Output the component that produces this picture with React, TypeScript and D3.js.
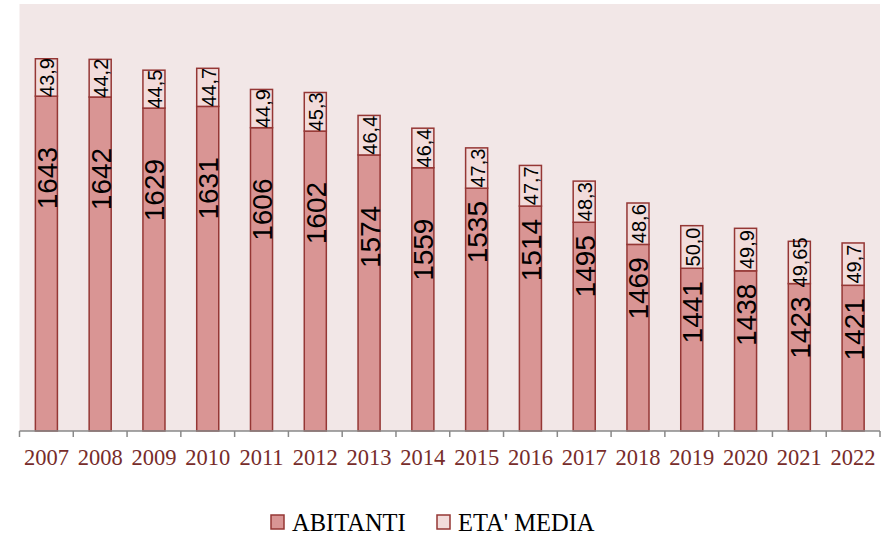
import { select, scaleBand, scaleLinear } from "d3";
import React, { useEffect, useRef } from "react";

const years = ["2007", "2008", "2009", "2010", "2011", "2012", "2013", "2014", "2015", "2016", "2017", "2018", "2019", "2020", "2021", "2022"];
const abitanti = [1643, 1642, 1629, 1631, 1606, 1602, 1574, 1559, 1535, 1514, 1495, 1469, 1441, 1438, 1423, 1421];
const etaMedia = [43.9, 44.2, 44.5, 44.7, 44.9, 45.3, 46.4, 46.4, 47.3, 47.7, 48.3, 48.6, 50.0, 49.9, 49.65, 49.7];
const etaLabels = ["43,9", "44,2", "44,5", "44,7", "44,9", "45,3", "46,4", "46,4", "47,3", "47,7", "48,3", "48,6", "50,0", "49,9", "49,65", "49,7"];
const yDomain = [1250, 1750];
const seriesNames = ["ABITANTI", "ETA' MEDIA"];

const W = 892;
const H = 538;
const FILL_AB = "#d99594";
const FILL_ETA = "#f2dcdb";
const STROKE = "#953735";

const App = () => {
  const chartRef = useRef<SVGSVGElement>(null);

  useEffect(() => {
    if (!chartRef.current) return;
    const svg = select(chartRef.current);
    svg.selectAll("*").remove();

    // area del grafico
    const plot = { left: 19.5, right: 880, top: 4, bottom: 431 };

    svg
      .append("rect")
      .attr("x", plot.left)
      .attr("y", plot.top)
      .attr("width", plot.right - plot.left)
      .attr("height", plot.bottom - plot.top)
      .attr("fill", "#f2e7e7");

    const x = scaleBand<string>().domain(years).range([plot.left, plot.right]).padding(0);
    const y = scaleLinear().domain(yDomain).range([plot.bottom, 5]);
    const barW = x.bandwidth() * 0.41;

    const g = svg.append("g");
    const rows = years.map((yr, i) => ({ yr, i, ab: abitanti[i], eta: etaMedia[i], etaLbl: etaLabels[i] }));

    // barre ABITANTI
    g.selectAll(".ab")
      .data(rows)
      .enter()
      .append("rect")
      .attr("x", (d) => x(d.yr)! + x.bandwidth() / 2 - barW / 2)
      .attr("y", (d) => y(d.ab))
      .attr("width", barW)
      .attr("height", (d) => y(yDomain[0]) - y(d.ab))
      .attr("fill", FILL_AB)
      .attr("stroke", STROKE)
      .attr("stroke-width", 1.5);

    // barre ETA' MEDIA
    g.selectAll(".eta")
      .data(rows)
      .enter()
      .append("rect")
      .attr("x", (d) => x(d.yr)! + x.bandwidth() / 2 - barW / 2)
      .attr("y", (d) => y(d.ab + d.eta))
      .attr("width", barW)
      .attr("height", (d) => y(d.ab) - y(d.ab + d.eta))
      .attr("fill", FILL_ETA)
      .attr("stroke", STROKE)
      .attr("stroke-width", 1.5);

    // etichette ABITANTI
    g.selectAll(".abLbl")
      .data(rows)
      .enter()
      .append("text")
      .attr("transform", (d) => {
        const cx = x(d.yr)! + x.bandwidth() / 2 + 1;
        const cy = y(d.ab) + (d.i < 8 ? 82 : 44);
        return `translate(${cx},${cy}) rotate(-90)`;
      })
      .attr("text-anchor", "middle")
      .attr("dominant-baseline", "central")
      .attr("font-family", "'Liberation Sans Narrow', 'Arial Narrow', sans-serif")
      .attr("font-size", 28)
      .attr("fill", "#000")
      .text((d) => String(d.ab));

    // etichette ETA' MEDIA
    g.selectAll(".etaLbl")
      .data(rows)
      .enter()
      .append("text")
      .attr("transform", (d) => {
        const cx = x(d.yr)! + x.bandwidth() / 2 + 1;
        const cy = (y(d.ab) + y(d.ab + d.eta)) / 2;
        return `translate(${cx},${cy}) rotate(-90)`;
      })
      .attr("text-anchor", "middle")
      .attr("dominant-baseline", "central")
      .attr("font-family", "'Liberation Sans Narrow', 'Arial Narrow', sans-serif")
      .attr("font-size", 20)
      .attr("fill", "#000")
      .text((d) => d.etaLbl);

    // asse x
    const axis = svg.append("g");
    axis
      .append("line")
      .attr("x1", plot.left)
      .attr("x2", plot.right)
      .attr("y1", plot.bottom)
      .attr("y2", plot.bottom)
      .attr("stroke", "#898989")
      .attr("stroke-width", 1.5);
    const tickXs = years.map((yr) => x(yr)!).concat([plot.right]);
    axis
      .selectAll(".tick")
      .data(tickXs)
      .enter()
      .append("line")
      .attr("x1", (d) => d)
      .attr("x2", (d) => d)
      .attr("y1", plot.bottom)
      .attr("y2", plot.bottom + 6)
      .attr("stroke", "#898989")
      .attr("stroke-width", 1.5);
    axis
      .selectAll(".lbl")
      .data(years)
      .enter()
      .append("text")
      .attr("x", (d) => x(d)! + x.bandwidth() / 2)
      .attr("y", 465)
      .attr("text-anchor", "middle")
      .attr("font-family", "Liberation Serif, serif")
      .attr("font-size", 22.5)
      .attr("fill", "#772c2a")
      .text((d) => d);

    // legenda
    const legend = svg.append("g");
    const legendX = [271, 437];
    const fills = [FILL_AB, FILL_ETA];
    seriesNames.forEach((name, i) => {
      legend
        .append("rect")
        .attr("x", legendX[i])
        .attr("y", 515)
        .attr("width", 13)
        .attr("height", 14)
        .attr("fill", fills[i])
        .attr("stroke", STROKE)
        .attr("stroke-width", 1.5);
      legend
        .append("text")
        .attr("x", legendX[i] + 21)
        .attr("y", 530.5)
        .attr("font-family", "Liberation Serif, serif")
        .attr("font-size", 24.5)
        .attr("fill", "#000")
        .text(name);
    });
  }, []);

  return (
    <svg
      ref={chartRef}
      width={W}
      height={H}
      style={{ position: "absolute", left: 0, top: 0, background: "#fff" }}
    ></svg>
  );
};

export default App;
